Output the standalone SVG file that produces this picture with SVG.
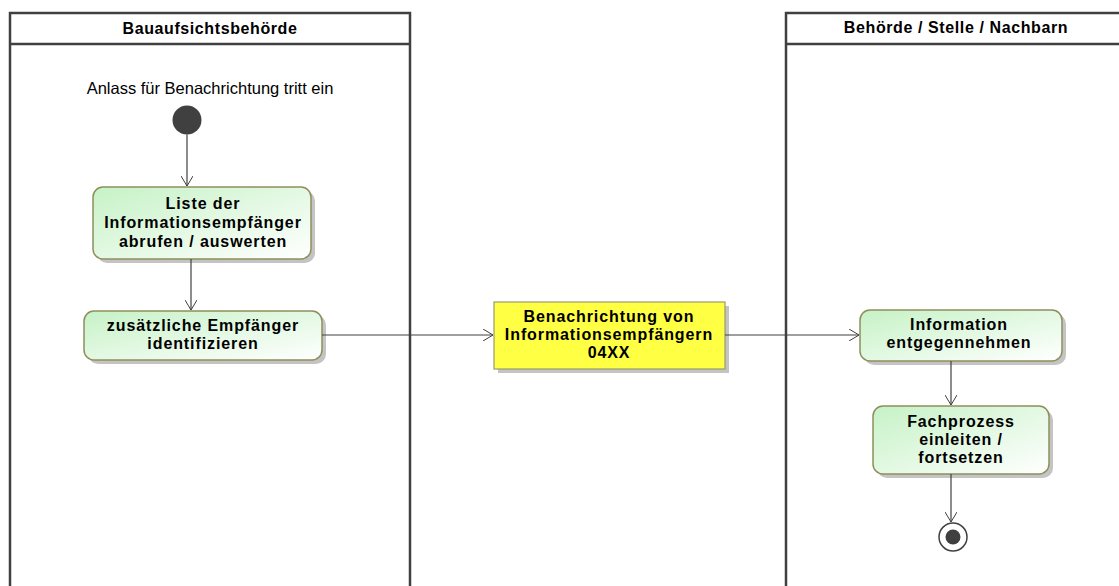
<svg xmlns="http://www.w3.org/2000/svg" width="1119" height="586" viewBox="0 0 1119 586">
<defs>
<linearGradient id="g" x1="0" y1="0" x2="1" y2="1">
<stop offset="0" stop-color="#c6f2c6"/>
<stop offset="1" stop-color="#ffffff"/>
</linearGradient>
<marker id="a" markerWidth="12" markerHeight="12" refX="10" refY="6" orient="auto" markerUnits="userSpaceOnUse">
<path d="M0,0 L10,6 L0,12" fill="none" stroke="#404040" stroke-width="1"/>
</marker>
</defs>
<style>
.lane{fill:none;stroke:#404040;stroke-width:2.5}
.lt{font-family:"Liberation Sans",Arial,sans-serif;font-size:16px;font-weight:bold;fill:#000;text-anchor:middle;letter-spacing:0.6px}
.t{font-family:"Liberation Sans",Arial,sans-serif;font-size:16px;font-weight:bold;fill:#000;text-anchor:middle;letter-spacing:0.9px}
.act{fill:url(#g);stroke:#8e8e5c;stroke-width:1.5}
.sh{fill:#c4c4c4}
.c{stroke:#404040;stroke-width:1.2;fill:none;marker-end:url(#a)}
</style>
<rect width="1119" height="586" fill="#fff"/>
<g id="lane1">
<path class="lane" d="M10,600 V13 H410 V600 M10,44 H410"/>
<text class="lt" x="210" y="34">Bauaufsichtsbehörde</text>
</g>
<g id="lane2">
<path class="lane" d="M786,600 V13 H1125 M786,44 H1125"/>
<text class="lt" x="956" y="33">Behörde / Stelle / Nachbarn</text>
</g>
<g id="start">
<text x="210" y="94" font-family="Liberation Sans,Arial,sans-serif" font-size="16.5" text-anchor="middle" fill="#000">Anlass für Benachrichtung tritt ein</text>
<circle cx="187" cy="120" r="14.5" fill="#404040"/>
</g>
<g id="act1">
<rect class="sh" x="97" y="191" width="218" height="72" rx="10"/>
<rect class="act" x="93" y="187" width="218" height="72" rx="10"/>
<text class="t" x="203" y="209">Liste der</text>
<text class="t" x="203" y="228">Informationsempfänger</text>
<text class="t" x="203" y="247">abrufen / auswerten</text>
</g>
<g id="act2">
<rect class="sh" x="88" y="315" width="238" height="49" rx="10"/>
<rect class="act" x="84" y="311" width="238" height="49" rx="10"/>
<text class="t" x="203" y="331">zusätzliche Empfänger</text>
<text class="t" x="203" y="349">identifizieren</text>
</g>
<g id="msg">
<rect class="sh" x="498" y="306" width="231" height="67"/>
<rect x="494" y="302" width="231" height="67" fill="#ffff44" stroke="#9a9a6a" stroke-width="1.2"/>
<text class="t" x="609" y="322">Benachrichtung von</text>
<text class="t" x="609" y="340">Informationsempfängern</text>
<text class="t" x="609" y="358">04XX</text>
</g>
<g id="act3">
<rect class="sh" x="864" y="314" width="202" height="51" rx="10"/>
<rect class="act" x="860" y="310" width="202" height="51" rx="10"/>
<text class="t" x="959" y="330">Information</text>
<text class="t" x="959" y="348">entgegennehmen</text>
</g>
<g id="act4">
<rect class="sh" x="877" y="410" width="176" height="68" rx="10"/>
<rect class="act" x="873" y="406" width="176" height="68" rx="10"/>
<text class="t" x="961" y="427">Fachprozess</text>
<text class="t" x="961" y="445">einleiten /</text>
<text class="t" x="961" y="463">fortsetzen</text>
</g>
<g id="end">
<circle cx="953" cy="537" r="14" fill="#fff" stroke="#404040" stroke-width="1.5"/>
<circle cx="953" cy="537" r="7.5" fill="#404040"/>
</g>
<g id="connectors">
<path class="c" d="M187,134.5 V186"/>
<path class="c" d="M191,259 V310"/>
<path class="c" d="M322,335 H493"/>
<path class="c" d="M725,335 H859"/>
<path class="c" d="M951,361 V405"/>
<path class="c" d="M951,474 V522"/>
</g>
</svg>
